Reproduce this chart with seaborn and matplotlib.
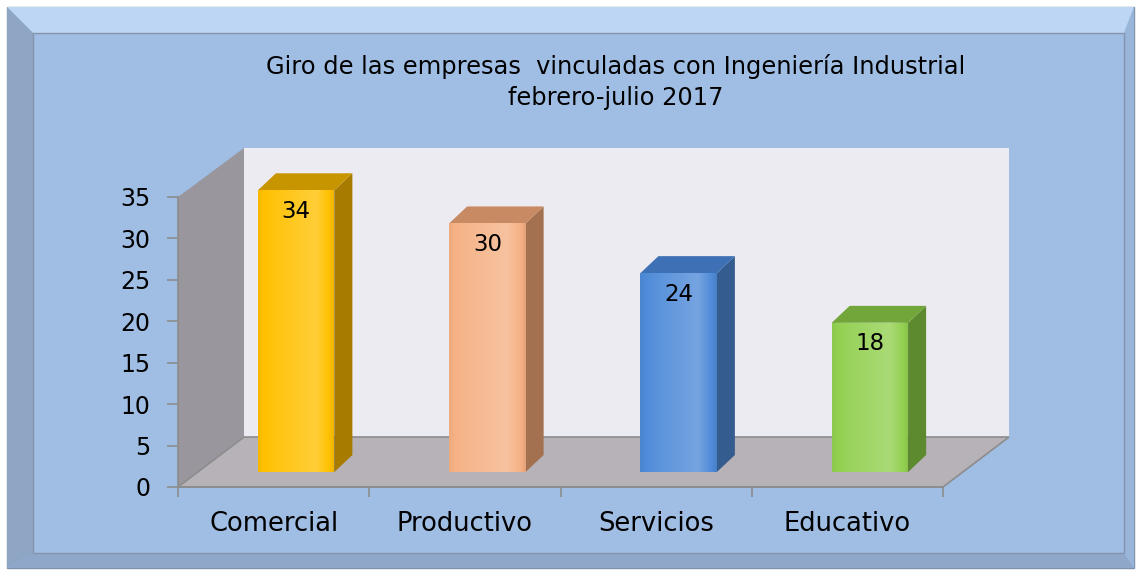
import numpy as np
import matplotlib
matplotlib.use("Agg")
import matplotlib.pyplot as plt
from matplotlib.patches import Polygon
import seaborn as sns

# datos
categorias = ["Comercial", "Productivo", "Servicios", "Educativo"]
valores = [34, 30, 24, 18]
color_frente = ["#FFC000", "#F5B184", "#4F8BD8", "#92D050"]
color_lado = ["#A67B00", "#A3714F", "#345C8E", "#5E8A2F"]
color_tapa = ["#C79500", "#C88A63", "#3D70B4", "#72A63B"]
titulo = "Giro de las empresas  vinculadas con Ingeniería Industrial\nfebrero-julio 2017"
yticks = [0, 5, 10, 15, 20, 25, 30, 35]

W, H = 1138, 575
sns.set_style("white")
plt.rcParams['font.family'] = ['DejaVu Sans']

fig = plt.figure(figsize=(W / 100, H / 100), dpi=100)
fig.patch.set_facecolor("white")


def fp(pts):
    # pixeles -> coordenadas de figura
    return [(x / W, 1 - y / H) for x, y in pts]


def marco(pts, color, **kw):
    fig.patches.append(Polygon(fp(pts), closed=True, transform=fig.transFigure,
                               facecolor=color, zorder=-10, **kw))


# marco biselado
x0, y0, x1, y1 = 7, 7, 1134, 568
i0, j0, i1, j1 = 33, 33, 1124, 553
marco([(x0, y0), (x1, y0), (x1, y1), (x0, y1)], "#A0BDE3", edgecolor="#7F93AD", lw=1)
marco([(x0, y0), (x1, y0), (i1, j0), (i0, j0)], "#BCD6F3", edgecolor="none")
marco([(x0, y0), (i0, j0), (i0, j1), (x0, y1)], "#8EA5C3", edgecolor="none")
marco([(x1, y0), (x1, y1), (i1, j1), (i1, j0)], "#9AB5DA", edgecolor="none")
marco([(x0, y1), (x1, y1), (i1, j1), (i0, j1)], "#8FA8C9", edgecolor="none")
marco([(i0, j0), (i1, j0), (i1, j1), (i0, j1)], "#A0BDE3", edgecolor="#8494AC", lw=1)

# ejes en el plano frontal
L, R, B, T = 178, 943, 487, 197
ax = fig.add_axes([L / W, 1 - B / H, (R - L) / W, (B - T) / H])
ax.set_xlim(-0.5, 3.5)
ax.set_ylim(0, 35)
ax.patch.set_alpha(0)

px_x = (R - L) / 4.0
px_y = (B - T) / 35.0
dx, dy = 66 / px_x, 50 / px_y          # profundidad total
techo = (B - 148) / px_y

gris = "#8C8C8C"
pared = Polygon([(-0.5 + dx, dy), (3.5 + dx, dy), (3.5 + dx, techo), (-0.5 + dx, techo)],
                facecolor="#EDEBF2", edgecolor="none", clip_on=False, zorder=0)
lado = Polygon([(-0.5, 0), (-0.5 + dx, dy), (-0.5 + dx, techo), (-0.5, 35)],
               facecolor="#99979D", edgecolor="none", clip_on=False, zorder=0)
piso = Polygon([(-0.5, 0), (3.5, 0), (3.5 + dx, dy), (-0.5 + dx, dy)],
               facecolor="#B6B2B7", edgecolor=gris, lw=1.2, clip_on=False, zorder=0.5)
for p in (pared, lado, piso):
    ax.add_patch(p)

# barras frontales con seaborn
sns.barplot(x=categorias, y=valores, hue=categorias, palette=color_frente,
            width=0.40, legend=False, ax=ax, zorder=3, saturation=1)

ox, oy = 22.5 / px_x, 15 / px_y         # posicion de la barra dentro del piso
bdx, bdy = 18 / px_x, 17 / px_y         # profundidad de la barra
grad = np.concatenate([np.linspace(-0.04, 0.06, 20), np.linspace(0.06, 0.22, 55),
                       np.linspace(0.22, -0.08, 25)])
for i, p in enumerate(ax.patches[3:]):
    p.set_x(p.get_x() + ox)
    p.set_y(oy)
    p.set_edgecolor("none")
    p.set_clip_on(False)
    x_a, w_b = p.get_x(), p.get_width()
    y_t = oy + p.get_height()
    ax.add_patch(Polygon([(x_a + w_b, oy), (x_a + w_b + bdx, oy + bdy),
                          (x_a + w_b + bdx, y_t + bdy), (x_a + w_b, y_t)],
                         facecolor=color_lado[i], edgecolor="none", zorder=2.9, clip_on=False))
    ax.add_patch(Polygon([(x_a, y_t), (x_a + w_b, y_t), (x_a + w_b + bdx, y_t + bdy),
                          (x_a + bdx, y_t + bdy)],
                         facecolor=color_tapa[i], edgecolor="none", zorder=2.9, clip_on=False))
    # brillo
    img = np.zeros((1, len(grad), 4))
    img[..., :3] = 1.0
    img[0, :, 3] = np.clip(grad, 0, 1)
    dark = grad < 0
    img[0, dark, :3] = 0.0
    img[0, dark, 3] = -grad[dark]
    im = ax.imshow(img, extent=[x_a, x_a + w_b, oy, y_t], aspect="auto",
                   zorder=3.1)
    im.set_clip_on(False)
    im.set_clip_path(p)
    ax.text(x_a + w_b / 2, y_t - 21 / px_y, str(valores[i]), ha="center", va="center",
            fontsize=16.5, color="black", zorder=4)

ax.set_xlim(-0.5, 3.5)
ax.set_ylim(0, 35)

# ejes
for s in ("top", "right"):
    ax.spines[s].set_visible(False)
for s in ("left", "bottom"):
    ax.spines[s].set_color(gris)
    ax.spines[s].set_linewidth(1.2)
ax.set_yticks(yticks)
ax.set_yticklabels([str(v) for v in yticks], fontsize=17)
ax.set_xticks(range(4))
ax.set_xticklabels(categorias, fontsize=18.5)
ax.set_xticks([-0.5, 0.5, 1.5, 2.5, 3.5], minor=True)
ax.tick_params(axis="y", length=8, width=1.2, color=gris, pad=12, left=True,
               labelcolor="black")
ax.tick_params(axis="x", which="major", length=0, pad=17, labelcolor="black")
ax.tick_params(axis="x", which="minor", length=7, width=1.2, color=gris, bottom=True)
ax.set_xlabel("")
ax.set_ylabel("")

fig.text(616 / W, 1 - 82 / H, titulo, ha="center", va="center", fontsize=17.4,
         linespacing=1.4, color="black")

fig.savefig("out.png", dpi=100)
